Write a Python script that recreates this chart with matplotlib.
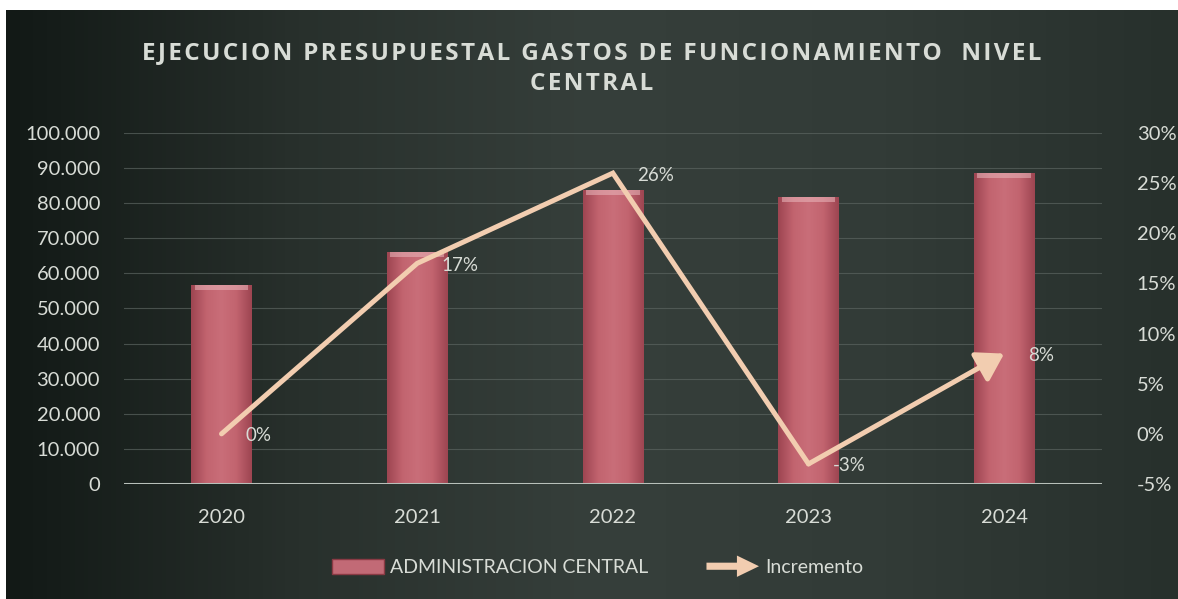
import matplotlib
matplotlib.use("Agg")
import matplotlib.pyplot as plt
import matplotlib.patches as mpatches
import matplotlib.colors as mcolors
from matplotlib.legend_handler import HandlerPatch
from matplotlib.ticker import FuncFormatter, MultipleLocator
import numpy as np


years = ["2020", "2021", "2022", "2023", "2024"]
admin_central = [56600, 66000, 83700, 81700, 88600]
incremento = [0.00, 0.17, 0.26, -0.03, 0.08]
incr_labels = ["0%", "17%", "26%", "-3%", "8%"]

title_lines = ["EJECUCION PRESUPUESTAL GASTOS DE FUNCIONAMIENTO  NIVEL",
    "CENTRAL"]

txt_color = '#d8dcd6'
line_color = '#f2cdb0'
font = 'Lato'

plt.rcParams['font.family'] = [font, 'DejaVu Sans']

fig = plt.figure(figsize=(11.78, 5.99), dpi=100)
fig.patch.set_facecolor('white')

# dark board behind everything
bg = fig.add_axes([0.005, 0.0, 0.995, 0.983], zorder=-10)
grad = mcolors.LinearSegmentedColormap.from_list(
    'board', ['#121916', '#28302c', '#363f3b', '#323b37', '#27302c'])
bg.imshow(np.linspace(0, 1, 256).reshape(1, -1), aspect='auto', cmap=grad,
    extent=[0, 1, 0, 1])
bg.set_axis_off()

ax = fig.add_axes([0.105, 0.192, 0.8305, 0.586])
ax.patch.set_alpha(0.0)
ax2 = ax.twinx()

x = np.arange(len(years))

bars = ax.bar(x, admin_central, width=0.31, color='#c26a76', zorder=3,
    label='ADMINISTRACION CENTRAL')

bar_cmap = mcolors.LinearSegmentedColormap.from_list(
    'bar', ['#9e4652', '#c2646f', '#c96e79', '#c2646f', '#9e4652'])
for b in bars:
    x0, w, h = b.get_x(), b.get_width(), b.get_height()
    im = ax.imshow(np.linspace(0, 1, 64).reshape(1, -1), cmap=bar_cmap,
        aspect='auto', extent=[x0, x0 + w, 0, h], zorder=3)
    im.set_clip_path(b)
    # light bevel on top
    ax.bar(b.get_x() + w / 2, 1300, bottom=h - 1300, width=w * 0.88,
        color='#eab8bd', alpha=0.55, zorder=4, lw=0)

ax.set_xlim(-0.5, len(years) - 0.5)
ax.set_ylim(0, 100000)
ax.yaxis.set_major_locator(MultipleLocator(10000))
ax.yaxis.set_major_formatter(
    FuncFormatter(lambda v, p: "{:,.0f}".format(v).replace(',', '.')))
ax.grid(axis='y', color='#5b6460', lw=0.8, alpha=0.7, zorder=0)
ax.set_axisbelow(True)

ax.set_xticks(x)
ax.set_xticklabels(years)

ax2.set_ylim(-0.05, 0.30)
ax2.yaxis.set_major_locator(MultipleLocator(0.05))
ax2.yaxis.set_major_formatter(FuncFormatter(lambda v, p: "{:.0f}%".format(v * 100)))

for a in (ax, ax2):
    for s in a.spines.values():
        s.set_visible(False)
    a.tick_params(length=0, colors=txt_color, labelsize=14.5)
ax.tick_params(axis='x', pad=18)
ax.tick_params(axis='y', pad=17)
ax2.tick_params(axis='y', pad=25)

ax.axhline(0, color='#b8c0ba', lw=2.2, zorder=5)

# line with arrow at the end
ax2.plot(x[:-1], incremento[:-1], color=line_color, lw=3.6,
    solid_capstyle='round', solid_joinstyle='miter', zorder=6)
ax2.annotate('', xy=(x[-1], incremento[-1]), xytext=(x[-2], incremento[-2]),
    arrowprops=dict(arrowstyle='-|>,head_length=0.8,head_width=0.5',
        color=line_color, lw=3.6, mutation_scale=20, shrinkA=0, shrinkB=0),
    zorder=6)

for xi, v, lab in zip(x, incremento, incr_labels):
    ax2.annotate(lab, (xi, v), xytext=(24, -2), textcoords='offset pixels',
        ha='left', va='center', color=txt_color, fontsize=13.5, zorder=7)

# slightly spaced-out title letters (hair spaces)
title = "\n".join("\u200a".join(line) for line in title_lines)
fig.text(0.502, 0.885, title, ha='center', va='center', color=txt_color,
    fontsize=17.5, fontweight='bold', linespacing=1.4,
    family=['Open Sans', 'DejaVu Sans'])


def make_arrow(legend, orig_handle, xdescent, ydescent, width, height, fontsize):
    return mpatches.FancyArrow(0, height / 2, width, 0, width=height * 0.5,
        head_width=height * 1.5, head_length=width * 0.42,
        length_includes_head=True)


bar_handle = mpatches.Patch(facecolor='#c26a76', edgecolor='#8a3a44',
    label='ADMINISTRACION CENTRAL')
arrow_handle = mpatches.Patch(facecolor=line_color, edgecolor='none',
    label='Incremento')
leg = fig.legend(handles=[bar_handle, arrow_handle], loc='center',
    bbox_to_anchor=(0.507, 0.052), ncol=2, frameon=False, fontsize=14,
    handlelength=2.7, handleheight=0.75, columnspacing=3.0, handletextpad=0.3,
    handler_map={arrow_handle: HandlerPatch(patch_func=make_arrow)})
for t in leg.get_texts():
    t.set_color(txt_color)

fig.savefig('out.png', dpi=100, facecolor=fig.get_facecolor())
